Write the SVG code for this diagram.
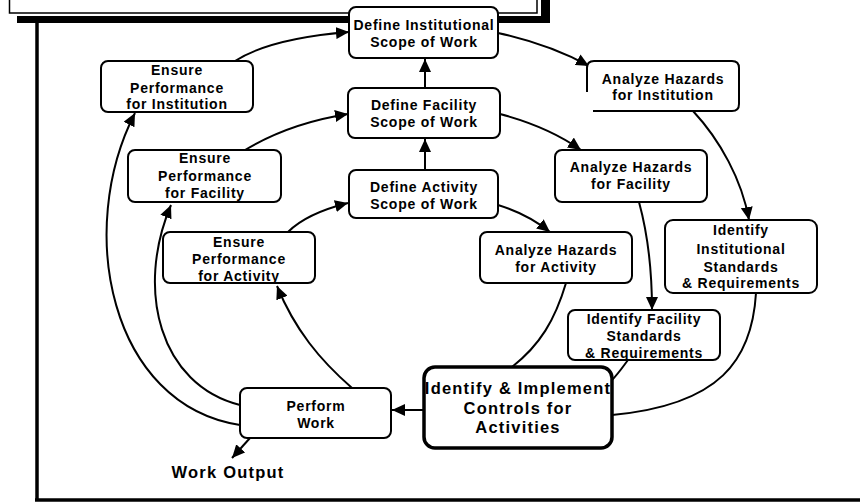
<svg xmlns="http://www.w3.org/2000/svg" width="860" height="504" viewBox="0 0 860 504">
<defs>
<style>
.box{fill:#fff;stroke:#000;stroke-width:2}
.main{fill:#fff;stroke:#000;stroke-width:3.5}
.t{font-family:"Liberation Sans",Arial,sans-serif;font-weight:bold;font-size:14px;letter-spacing:0.75px;text-anchor:middle;fill:#000}
.tb{font-family:"Liberation Sans",Arial,sans-serif;font-weight:bold;font-size:16.5px;letter-spacing:1.2px;text-anchor:middle;fill:#000}
.c{fill:none;stroke:#000;stroke-width:2}
.a{marker-end:url(#ah)}
</style>
<marker id="ah" markerUnits="userSpaceOnUse" markerWidth="14" markerHeight="12" refX="13" refY="6" orient="auto">
<path d="M0,0 L13,6 L0,12 z" fill="#000"/>
</marker>
</defs>
<rect width="860" height="504" fill="#fff"/>
<g id="frame">
<path d="M9.5,0 V13 H537 V0" fill="none" stroke="#000" stroke-width="1.5"/>
<rect x="17" y="16" width="533" height="7" fill="#000"/>
<rect x="541" y="0" width="9" height="23" fill="#000"/>
<line x1="37" y1="22" x2="37" y2="501" stroke="#000" stroke-width="3.5"/>
<line x1="35" y1="500" x2="860" y2="500" stroke="#000" stroke-width="3.5"/>
</g>
<g id="connectors">
<path class="c a" d="M235,61 C260,45 300,36 349,32"/>
<path class="c a" d="M245,150 C275,132 310,120 348,114"/>
<path class="c a" d="M288,232 C300,220 320,210 348,203"/>
<path class="c a" d="M425,88 V59"/>
<path class="c a" d="M425,170 V139"/>
<path class="c a" d="M498,33 C530,40 560,50 589,66"/>
<path class="c a" d="M500,114 C530,122 557,133 581,150"/>
<path class="c a" d="M498,205 C518,211 535,220 550,232"/>
<path class="c a" d="M693,111 C720,140 742,180 749,220"/>
<path class="c a" d="M639,202 C648,235 652,270 652,310"/>
<path class="c" d="M566,283 C555,320 540,345 512,367"/>
<path class="c" d="M628,360 C622,368 618,374 612,380"/>
<path class="c" d="M756,293 C752,360 720,405 612,415"/>
<path class="c a" d="M424,410 H392"/>
<path class="c a" d="M352,388 C320,360 295,330 277,286"/>
<path class="c a" d="M240,405 C160,385 135,290 171,205"/>
<path class="c a" d="M240,425 C110,405 75,230 135,113"/>
<path class="c a" d="M250,438 L232,458"/>
</g>
<g id="define-institutional">
<rect class="box" x="349" y="7" width="149" height="51" rx="7"/>
<text class="t" x="424" y="30">Define Institutional</text>
<text class="t" x="424" y="47">Scope of Work</text>
</g>
<g id="define-facility">
<rect class="box" x="348" y="88" width="152" height="50" rx="7"/>
<text class="t" x="424" y="110">Define Facility</text>
<text class="t" x="424" y="127">Scope of Work</text>
</g>
<g id="define-activity">
<rect class="box" x="349" y="170" width="149" height="48" rx="7"/>
<text class="t" x="424" y="192">Define Activity</text>
<text class="t" x="424" y="209">Scope of Work</text>
</g>
<g id="ensure-institution">
<rect class="box" x="101" y="61" width="152" height="51" rx="7"/>
<text class="t" x="177" y="75">Ensure</text>
<text class="t" x="177" y="93">Performance</text>
<text class="t" x="177" y="109">for Institution</text>
</g>
<g id="ensure-facility">
<rect class="box" x="128" y="150" width="153" height="52" rx="7"/>
<text class="t" x="205" y="163">Ensure</text>
<text class="t" x="205" y="181">Performance</text>
<text class="t" x="205" y="198">for Facility</text>
</g>
<g id="ensure-activity">
<rect class="box" x="163" y="232" width="152" height="51" rx="7"/>
<text class="t" x="239" y="247">Ensure</text>
<text class="t" x="239" y="264">Performance</text>
<text class="t" x="239" y="281">for Activity</text>
</g>
<g id="analyze-institution">
<path d="M587,92 V68 Q587,61 594,61 H732 Q739,61 739,68 V104 Q739,111 732,111 H593" fill="#fff" stroke="#000" stroke-width="2"/>
<text class="t" x="663" y="84">Analyze Hazards</text>
<text class="t" x="663" y="100">for Institution</text>
</g>
<g id="analyze-facility">
<rect class="box" x="555" y="150" width="152" height="52" rx="7"/>
<text class="t" x="631" y="172">Analyze Hazards</text>
<text class="t" x="631" y="189">for Facility</text>
</g>
<g id="analyze-activity">
<rect class="box" x="480" y="232" width="152" height="51" rx="7"/>
<text class="t" x="556" y="255">Analyze Hazards</text>
<text class="t" x="556" y="272">for Activity</text>
</g>
<g id="identify-institutional">
<rect class="box" x="665" y="220" width="152" height="73" rx="8"/>
<text class="t" x="741" y="235">Identify</text>
<text class="t" x="741" y="254">Institutional</text>
<text class="t" x="741" y="272">Standards</text>
<text class="t" x="741" y="288">&amp; Requirements</text>
</g>
<g id="identify-facility">
<rect class="box" x="568" y="310" width="152" height="50" rx="7"/>
<text class="t" x="644" y="324">Identify Facility</text>
<text class="t" x="644" y="341">Standards</text>
<text class="t" x="644" y="358">&amp; Requirements</text>
</g>
<g id="identify-implement">
<rect class="main" x="424" y="367" width="188" height="81" rx="11"/>
<text class="tb" x="518" y="394">Identify &amp; Implement</text>
<text class="tb" x="518" y="414">Controls for</text>
<text class="tb" x="518" y="433">Activities</text>
</g>
<g id="perform-work">
<rect class="box" x="240" y="388" width="151" height="50" rx="7"/>
<text class="t" x="316" y="411">Perform</text>
<text class="t" x="316" y="428">Work</text>
</g>
<g id="work-output">
<text class="tb" x="228" y="478">Work Output</text>
</g>
</svg>
